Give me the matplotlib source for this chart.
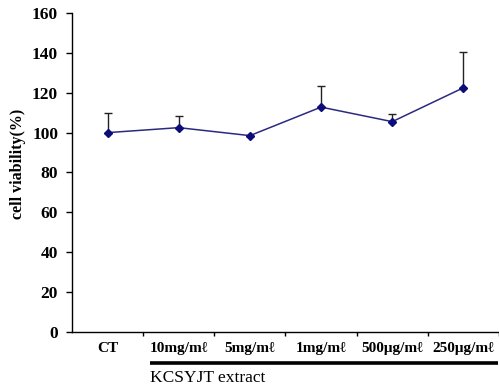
import matplotlib
matplotlib.use("Agg")
import matplotlib.pyplot as plt
from matplotlib.ticker import MultipleLocator, FixedLocator

categories = ["CT", "10mg/m\u2113", "5mg/m\u2113", "1mg/m\u2113", "500\u03bcg/m\u2113", "250\u03bcg/m\u2113"]
viability = [100.0, 102.5, 98.5, 112.8, 105.5, 122.5]
upper_err = [10.0, 6.0, 0.0, 10.6, 3.8, 17.8]
group_label = "KCSYJT extract"
ylabel = "cell viability(%)"

serif_bold = dict(family=["Liberation Serif", "DejaVu Serif"], weight="bold")

fig = plt.figure(figsize=(4.99, 3.86), dpi=100)
ax = fig.add_axes([72/499, 1-332/386, 427/499, (332-13)/386])

x = list(range(len(categories)))
ax.errorbar(x, viability, yerr=[[0]*len(x), upper_err], fmt="none",
            ecolor="#222222", elinewidth=1.0, capsize=3.2, capthick=1.0, zorder=2)
ax.plot(x, viability, color="#2a2a80", lw=1.1, marker="D", markersize=4.5,
        markerfacecolor="#0c0c7a", markeredgecolor="#0c0c7a", zorder=3)

ax.set_xlim(-0.5, 5.5)
ax.set_ylim(0, 160)
ax.yaxis.set_major_locator(MultipleLocator(20))
ax.set_xticks(x)
ax.set_xticklabels(categories, fontsize=11, va="baseline", **serif_bold)
ax.xaxis.set_minor_locator(FixedLocator([i + 0.5 for i in x]))
ax.tick_params(axis="x", which="major", length=0, pad=14.5)
ax.tick_params(axis="x", which="minor", length=3, width=1, direction="out")
ax.tick_params(axis="y", length=4, width=1, direction="out", pad=6)
for lab in ax.get_yticklabels():
    lab.set_fontsize(12.5)
    lab.set_fontfamily(serif_bold["family"])
    lab.set_fontweight("bold")

for s in ["top", "right"]:
    ax.spines[s].set_visible(False)
for s in ["left", "bottom"]:
    ax.spines[s].set_linewidth(1.0)

ax.set_ylabel(ylabel, fontsize=11.5, **serif_bold)
ax.yaxis.set_label_coords(-0.108, 0.527)

# bracket line under the extract groups
trans = ax.get_xaxis_transform()
ax.plot([0.6, 5.48], [-0.097, -0.097], transform=trans, color="black", lw=2.6,
        clip_on=False, solid_capstyle="butt")
ax.text(0.6, -0.118, group_label, transform=trans, ha="left", va="top",
        fontsize=12.5, family=["Liberation Serif", "DejaVu Serif"])

fig.savefig("out.png", dpi=100)
